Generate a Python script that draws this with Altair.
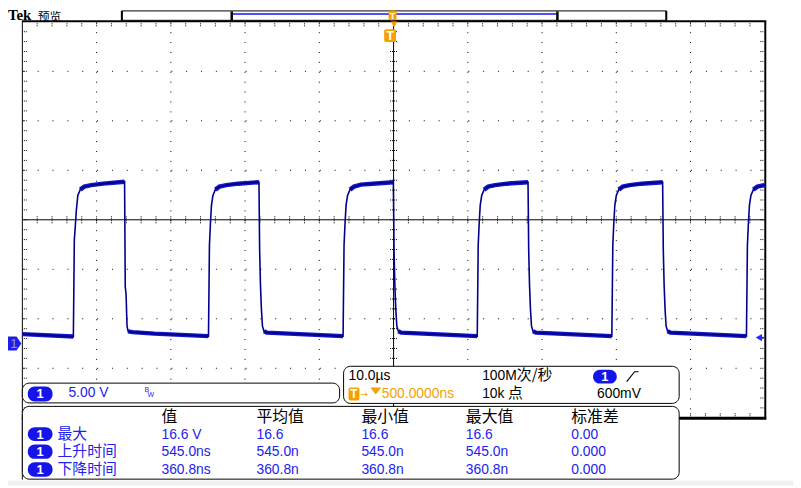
import altair as alt
import pandas as pd
import numpy as np

# CH1 waveform key points: time in µs (10.0 µs/div), voltage in V (5.00 V/div, CH1 ground marker = 0 V)
trace_t = [
    -50.00,
    -43.13, -43.00, -42.86, -42.73, -42.53, -42.20, -41.66, -40.73, -39.13,
    -36.23, -36.14, -36.03, -35.90, -35.76, -35.56, -35.16, -32.23,
    -24.93, -24.80, -24.66, -24.53, -24.33, -24.00, -23.46, -22.53, -20.93,
    -18.13, -18.04, -17.93, -17.80, -17.66, -17.46, -17.06, -14.13,
    -6.80, -6.67, -6.53, -6.40, -6.20, -5.87, -5.33, -4.40, -2.80,
    -0.03, 0.06, 0.17, 0.30, 0.44, 0.64, 1.04, 3.97,
    11.27, 11.40, 11.54, 11.67, 11.87, 12.20, 12.74, 13.67, 15.27,
    18.11, 18.20, 18.31, 18.44, 18.58, 18.78, 19.18, 22.11,
    29.40, 29.53, 29.67, 29.80, 30.00, 30.33, 30.87, 31.80, 33.40,
    36.24, 36.33, 36.44, 36.57, 36.71, 36.91, 37.31, 40.24,
    47.53, 47.66, 47.80, 47.93, 48.13, 48.46, 49.00, 49.93, 50.00,
]
trace_v = [
    0.95,
    0.70, 10.45, 11.95, 13.45, 14.95, 15.55, 15.85, 16.00, 16.15,
    16.35, 5.75, 4.95, 1.75, 1.25, 1.20, 1.15, 1.00,
    0.75, 9.95, 12.25, 13.95, 14.95, 15.55, 15.85, 16.00, 16.15,
    16.30, 9.45, 5.95, 3.45, 1.75, 1.25, 1.10, 1.00,
    0.75, 9.95, 12.25, 13.95, 14.95, 15.55, 15.85, 16.05, 16.15,
    16.30, 9.45, 5.95, 3.45, 1.75, 1.25, 1.10, 1.00,
    0.75, 9.95, 12.25, 13.95, 14.95, 15.55, 15.85, 16.00, 16.15,
    16.30, 9.45, 5.95, 3.45, 1.75, 1.25, 1.10, 1.00,
    0.75, 9.95, 12.25, 13.95, 14.95, 15.55, 15.85, 16.00, 16.15,
    16.30, 9.45, 5.95, 3.45, 1.75, 1.25, 1.10, 1.00,
    0.75, 9.95, 12.25, 13.95, 14.95, 15.55, 15.85, 16.00, 16.05,
]

title_brand = "Tek"
title_mode = "预览"
channel = "1"
volts_per_div = "5.00 V"
time_per_div = "10.0µs"
trigger_pos = "500.0000ns"
sample_rate = "100M"
sample_unit = "次/秒"
record_len = "10k"
record_unit = "点"
trigger_level = "600mV"

meas_cols = ["值", "平均值", "最小值", "最大值", "标准差"]
meas_names = ["最大", "上升时间", "下降时间"]
meas_vals = [
    ["16.6 V", "16.6", "16.6", "16.6", "0.00"],
    ["545.0ns", "545.0n", "545.0n", "545.0n", "0.000"],
    ["360.8ns", "360.8n", "360.8n", "360.8n", "0.000"],
]

# ---------------- styles / layout ----------------
W, H = 793, 480
NAVY = "#00008c"
BAND = "#1616c8"
BLUE_TXT = "#2222ee"
PILL = "#1515ea"
ORANGE = "#f5a000"
LAT = "Liberation Sans"
CJK = "Noto Sans CJK SC"

PX = alt.X("x:Q", scale=None, axis=None)
PY = alt.Y("y:Q", scale=None, axis=None)


def rules(rows, **mk):
    df = pd.DataFrame(rows, columns=["x", "y", "x2", "y2"])
    return alt.Chart(df).mark_rule(**mk).encode(x=PX, y=PY, x2="x2:Q", y2="y2:Q")


def rects(rows, **mk):
    df = pd.DataFrame(rows, columns=["x", "x2", "y", "y2"])
    return alt.Chart(df).mark_rect(**mk).encode(x=PX, x2="x2:Q", y=PY, y2="y2:Q")


def texts(rows, **mk):
    df = pd.DataFrame(rows, columns=["x", "y", "text"])
    kw = dict(align="left", baseline="middle")
    kw.update(mk)
    return alt.Chart(df).mark_text(**kw).encode(x=PX, y=PY, text="text:N")


def points(rows, **mk):
    df = pd.DataFrame(rows, columns=["x", "y"])
    return alt.Chart(df).mark_point(filled=True, opacity=1, strokeWidth=0, **mk).encode(x=PX, y=PY)


layers = []

# bottom grey strip of the screenshot
layers.append(rects([(0, W, 475, H)], color="#f0f0f0"))

# ---------- graticule ----------
gx = [14.5 + 75 * k for k in range(11)]
gy = [11.5 + 50 * k for k in range(9)]
layers.append(rules([(x, 12, x, 412) for i, x in enumerate(gx) if i not in (0, 5, 10)],
                    color="black", strokeWidth=1, strokeDash=[1, 9]))
layers.append(rules([(15, y, 765, y) for i, y in enumerate(gy) if i not in (0, 4, 8)],
                    color="black", strokeWidth=1, strokeDash=[1, 14]))
# center cross
layers.append(rules([(14.5, 211.5, 764.5, 211.5), (389.5, 11, 389.5, 412)], color="black", strokeWidth=1))
layers.append(rules([(14.5 + 15 * i, 208, 14.5 + 15 * i, 215) for i in range(1, 50)],
                    color="black", strokeWidth=1, strokeDash=[1, 1]))
layers.append(rules([(386, 11.5 + 10 * j, 393, 11.5 + 10 * j) for j in range(1, 40)],
                    color="black", strokeWidth=1, strokeDash=[1, 1]))
# edge ticks
edge = []
edge += [(14.5 + 15 * i, 13, 14.5 + 15 * i, 16) for i in range(1, 50)]
edge += [(14.5 + 15 * i, 407, 14.5 + 15 * i, 410) for i in range(1, 50)]
edge += [(16, 11.5 + 10 * j, 19, 11.5 + 10 * j) for j in range(1, 40)]
edge += [(760, 11.5 + 10 * j, 763, 11.5 + 10 * j) for j in range(1, 40)]
layers.append(rules(edge, color="black", strokeWidth=1, strokeDash=[1, 1]))
# borders
layers.append(rules([(14, 11, 766, 11)], color="black", strokeWidth=2))
layers.append(rules([(14.5, 11, 14.5, 474)], color="black", strokeWidth=1))
layers.append(rules([(765, 11, 765, 413)], color="black", strokeWidth=2))
layers.append(rules([(14, 412, 766, 412)], color="black", strokeWidth=3))

# ---------- waveform ----------
wf = pd.DataFrame({"t": trace_t, "v": trace_v})
wf["i"] = range(len(wf))
lvl = np.where(wf["v"] >= 15.5, "hi", np.where(wf["v"] <= 1.3, "lo", ""))
wf["lvl"] = lvl
wf["seg"] = (wf["lvl"] != wf["lvl"].shift()).cumsum()
band = wf[wf["lvl"] != ""]
XS = alt.X("t:Q", scale=alt.Scale(domain=[-50, 50], range=[14.5, 764.5], nice=False, zero=False), axis=None)
YS = alt.Y("v:Q", scale=alt.Scale(domain=[-7.5, 32.5], range=[411.5, 11.5], nice=False, zero=False), axis=None)
layers.append(alt.Chart(band).mark_line(color=BAND, strokeWidth=4.5, strokeCap="butt").encode(
    x=XS, y=YS, detail="seg:N", order="i:Q"))
layers.append(alt.Chart(wf).mark_line(color=NAVY, strokeWidth=1.6).encode(x=XS, y=YS, order="i:Q"))

# ---------- markers ----------
# CH1 ground marker
layers.append(points([(6.5, 336.5)], shape="M-1,-1L0.3,-1L1,0L0.3,1L-1,1Z", size=196, color="#1e1ee6"))
layers.append(texts([(6, 337, channel)], align="center", font=LAT, fontSize=13, color="#9a9ab0"))
# trigger level marker (right)
layers.append(points([(758.5, 330.5)], shape="triangle-left", size=55, color="#2a2aff"))
layers.append(rules([(760, 330.5, 765, 330.5)], color="#2a2aff", strokeWidth=1.5))

# ---------- header ----------
layers.append(texts([(0, 10, title_brand)], baseline="alphabetic", font="Liberation Serif",
                    fontWeight="bold", fontSize=15, color="black"))
layers.append(texts([(30, 10.5, title_mode)], baseline="alphabetic", font=CJK, fontSize=12, color="black"))
layers.append(rects([(115, 665, 0.5, 10)], fill="white", stroke="black", strokeWidth=1))
layers.append(rules([(115, 0.5, 115, 10), (665, 0.5, 665, 10)], color="black", strokeWidth=2))
layers.append(rules([(227, 3.5, 554, 3.5)], color="#1515ff", strokeWidth=1.5))
layers.append(rules([(226, 1, 226, 10), (555, 1, 555, 10)], color="black", strokeWidth=2.5))
# trigger position markers
layers.append(rects([(384.5, 392.5, 0, 10), (380, 392, 19, 32)], color=ORANGE, cornerRadius=2))
layers.append(points([(390, 14)], shape="triangle-down", size=45, color=ORANGE))
layers.append(texts([(388.5, 5.5, "T")], align="center", font=LAT, fontWeight="bold", fontSize=10, color="white"))
layers.append(texts([(386, 25.5, "T")], align="center", font=LAT, fontWeight="bold", fontSize=13, color="white"))

# ---------- readout boxes ----------
box = dict(fill="white", stroke="black", strokeWidth=1, cornerRadius=7)
layers.append(rects([(14.5, 335, 376.5, 396.5)], **box))
layers.append(rects([(339, 678, 359.5, 397)], **box))
layers.append(rects([(14.5, 678, 400, 473.5)], **box))

# pills with channel number
pills = [(20, 45, 380, 395), (20, 45, 421, 435), (20, 45, 438.5, 453), (20, 45, 456.5, 471), (591, 615, 363, 377)]
layers.append(rects(pills, color=PILL, cornerRadius=7))
layers.append(texts([((a + b) / 2, (c + d) / 2 + 0.5, channel) for a, b, c, d in pills],
                    align="center", font=LAT, fontWeight="bold", fontSize=13, color="white"))

# channel box
layers.append(texts([(61, 386.5, volts_per_div)], font=LAT, fontSize=14, color=BLUE_TXT))
layers.append(texts([(138, 383.5, "B")], font=LAT, fontSize=7, color=BLUE_TXT))
layers.append(texts([(141, 389, "W")], font=LAT, fontSize=7, color=BLUE_TXT))

# timebase / trigger box
layers.append(texts([(344, 369, time_per_div), (479, 369, sample_rate), (479, 388, record_len),
                     (595, 388, trigger_level)], font=LAT, fontSize=14, color="black"))
layers.append(texts([(514, 368, sample_unit), (505, 387, record_unit)], font=CJK, fontSize=15, color="black"))
layers.append(rects([(344, 355, 381, 394)], color=ORANGE, cornerRadius=2))
layers.append(texts([(349.5, 388, "T")], align="center", font=LAT, fontWeight="bold", fontSize=12, color="white"))
layers.append(texts([(356, 387.5, "→")], font="DejaVu Sans", fontSize=9, color=ORANGE))
layers.append(points([(371.5, 384.5)], shape="M-1,-0.64L1,-0.64L0,0.64Z", size=121, color=ORANGE))
layers.append(texts([(377.5, 388, trigger_pos)], font=LAT, fontSize=14, color=ORANGE))
slope = pd.DataFrame({"x": [625, 633, 637], "y": [375, 365, 365], "o": [0, 1, 2]})
layers.append(alt.Chart(slope).mark_line(color="black", strokeWidth=1.2).encode(x=PX, y=PY, order="o:Q"))

# measurement table
col_x = [155, 251, 357, 462.5, 569]
row_y = [428, 445.5, 463.5]
layers.append(texts([(x, 411, c) for x, c in zip(col_x, meas_cols)], font=CJK, fontSize=16, color="black"))
layers.append(texts([(50, y, n) for y, n in zip(row_y, meas_names)], font=CJK, fontSize=15, color=BLUE_TXT))
vals = []
for y, row in zip(row_y, meas_vals):
    for x, v in zip(col_x, row):
        vals.append((x, y + 0.5, v))
layers.append(texts(vals, font=LAT, fontSize=14, color=BLUE_TXT))

chart = alt.layer(*layers).resolve_scale(x="independent", y="independent").properties(
    width=W, height=H, autosize=alt.AutoSizeParams(type="none"), padding=0,
    background="white",
).configure_view(strokeWidth=0)

chart.save("out.html", embed_options={"renderer": "svg", "actions": False})
